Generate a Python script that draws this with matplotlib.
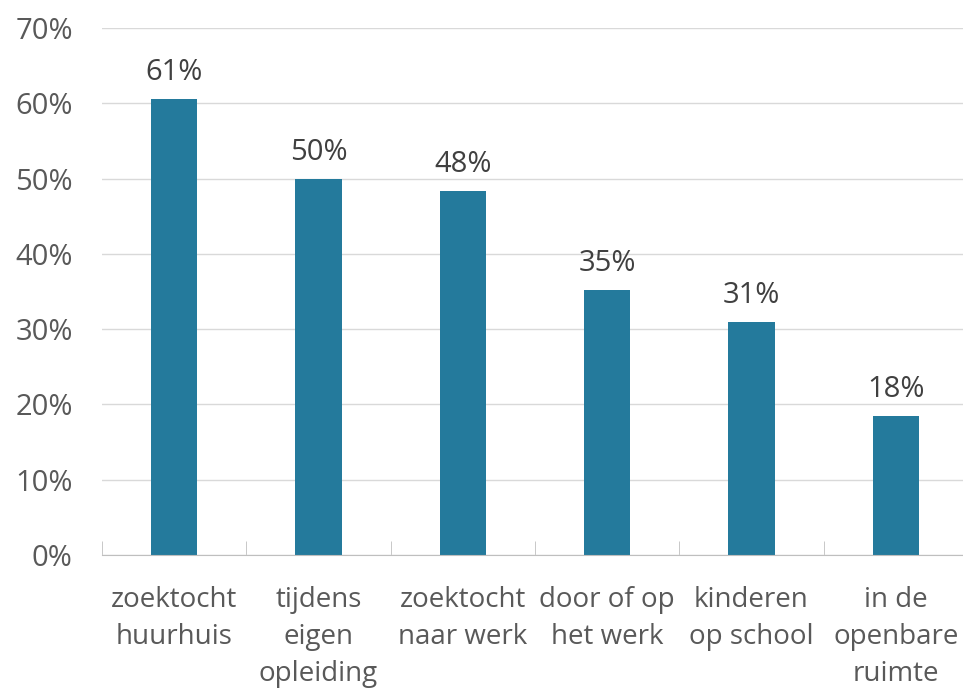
import matplotlib.pyplot as plt
import numpy as np
from matplotlib.ticker import FuncFormatter

categories = ['zoektocht\nhuurhuis', 'tijdens\neigen\nopleiding', 'zoektocht\nnaar werk',
              'door of op\nhet werk', 'kinderen\nop school', 'in de\nopenbare\nruimte']
values = [60.6, 50.0, 48.4, 35.2, 31.0, 18.4]

plt.rcParams['font.family'] = ['Open Sans', 'DejaVu Sans']

fig = plt.figure(figsize=(9.63, 6.94), dpi=100)
ax = fig.add_axes([102 / 963, 1 - 555 / 694, 866 / 963, 527 / 694])

x = np.arange(len(categories))
ax.bar(x, values, width=0.32, color='#247A9C', zorder=3)
for xi, v in zip(x, values):
    ax.text(xi, v + 1.6, '%.0f%%' % v, ha='center', va='bottom', fontsize=21, color='#404040')

ax.set_xlim(-0.5, len(categories) - 0.5)
ax.set_ylim(0, 70)
ax.set_yticks(np.arange(0, 71, 10))
ax.yaxis.set_major_formatter(FuncFormatter(lambda v, p: '%d%%' % v))
ax.grid(axis='y', color='#D9D9D9', linewidth=1, zorder=0)

ax.set_xticks(x)
ax.set_xticklabels(categories, fontsize=20, color='#595959', linespacing=1.45)
ax.set_xticks(np.arange(-0.5, len(categories), 1), minor=True)
ax.tick_params(axis='x', which='major', length=0, pad=22)
ax.tick_params(axis='x', which='minor', direction='in', length=10, color='#BFBFBF')
ax.tick_params(axis='y', length=0, labelsize=21, labelcolor='#595959', pad=21)

for s in ['top', 'right', 'left']:
    ax.spines[s].set_visible(False)
ax.spines['bottom'].set_color('#BFBFBF')
ax.spines['bottom'].set_zorder(4)

fig.savefig('out.png', dpi=100)
